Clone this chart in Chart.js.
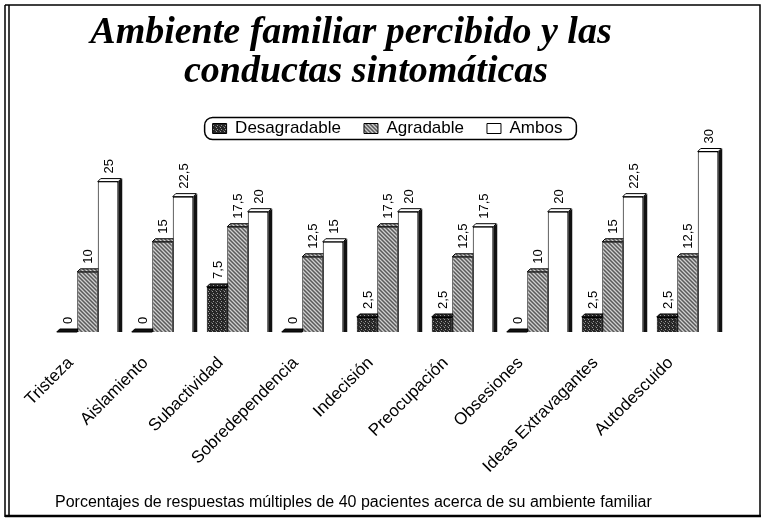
<!DOCTYPE html>
<html>
<head>
<meta charset="utf-8">
<script src="https://cdn.jsdelivr.net/npm/chart.js"></script>
<style>
  html, body { margin: 0; padding: 0; background: #fff; }
</style>
</head>
<body>
<canvas id="myChart" width="765" height="521"></canvas>
<script>
// DATOS
const categorias = ["Tristeza", "Aislamiento", "Subactividad", "Sobredependencia", "Indecisión", "Preocupación", "Obsesiones", "Ideas Extravagantes", "Autodescuido"];
const desagradable = [0, 0, 7.5, 0, 2.5, 2.5, 0, 2.5, 2.5];
const agradable = [10, 15, 17.5, 12.5, 17.5, 12.5, 10, 15, 12.5];
const ambos = [25, 22.5, 20, 15, 20, 17.5, 20, 22.5, 30];
const series = ["Desagradable", "Agradable", "Ambos"];
const titulo = ["Ambiente familiar percibido y las", "conductas sintomáticas"];
const nota = "Porcentajes de respuestas múltiples de 40 pacientes acerca de su ambiente familiar";

const canvas = document.getElementById("myChart");
const ctx = canvas.getContext("2d");

// tramas de relleno (como el grafico escaneado)
function trama(filas, colores) {
  const c = document.createElement("canvas");
  c.width = filas[0].length;
  c.height = filas.length;
  const g = c.getContext("2d");
  filas.forEach((fila, y) => {
    [...fila].forEach((ch, x) => {
      g.fillStyle = colores[ch];
      g.fillRect(x, y, 1, 1);
    });
  });
  return ctx.createPattern(c, "repeat");
}
const oscuro = trama(["0000", "0100", "0002", "1000"], { 0: "#262626", 1: "#9a9a9a", 2: "#5c5c5c" });
const gris = trama(["1020", "0102", "2010", "0201"], { 0: "#8e8e8e", 1: "#cfcfcf", 2: "#5a5a5a" });

const fuente = 'Arial, "Liberation Sans", sans-serif';
const D = 3; // profundidad 3D

// caras laterales y superiores de las barras
const profundidad = {
  id: "profundidad",
  beforeDatasetsDraw(chart) {
    const c = chart.ctx;
    c.save();
    chart.data.datasets.forEach((ds, i) => {
      chart.getDatasetMeta(i).data.forEach((bar) => {
        const l = bar.x - bar.width / 2, r = bar.x + bar.width / 2;
        const t = bar.y, b = bar.base;
        c.fillStyle = "#111";
        c.beginPath();
        c.moveTo(r, t);
        c.lineTo(r + D + 1, t - D);
        c.lineTo(r + D + 1, b);
        c.lineTo(r, b);
        c.closePath();
        c.fill();
        c.beginPath();
        c.moveTo(l, t);
        c.lineTo(l + D, t - D);
        c.lineTo(r + D, t - D);
        c.lineTo(r, t);
        c.closePath();
        c.fillStyle = t === b ? "#111" : ds.backgroundColor;
        c.fill();
        c.strokeStyle = "#000";
        c.lineWidth = 1;
        c.stroke();
      });
    });
    c.restore();
  },
  afterDatasetsDraw(chart) {
    const c = chart.ctx;
    c.save();
    c.font = "13px " + fuente;
    c.fillStyle = "#000";
    c.textAlign = "left";
    c.textBaseline = "middle";
    chart.data.datasets.forEach((ds, i) => {
      chart.getDatasetMeta(i).data.forEach((bar, j) => {
        c.save();
        c.translate(bar.x + 1, bar.y - D - 5);
        c.rotate(-Math.PI / 2);
        c.fillText(String(ds.data[j]).replace(".", ","), 0, 0);
        c.restore();
      });
    });
    c.restore();
  },
  afterDraw(chart) {
    const c = chart.ctx;
    c.save();
    // titulo
    c.fillStyle = "#000";
    c.textAlign = "center";
    c.textBaseline = "alphabetic";
    c.font = 'italic bold 38px "Liberation Serif", "Times New Roman", serif';
    c.fillText(titulo[0], 351, 43);
    c.fillText(titulo[1], 366, 82);
    // nota al pie
    c.textAlign = "left";
    c.font = "16px " + fuente;
    c.fillText(nota, 55, 507);
    // borde de la leyenda
    const hb = chart.legend.legendHitBoxes;
    if (hb && hb.length) {
      const x0 = hb[0].left - 8;
      const x1 = hb[hb.length - 1].left + hb[hb.length - 1].width + 14;
      const yc = hb[0].top + hb[0].height / 2;
      c.beginPath();
      c.roundRect(x0, yc - 11, x1 - x0, 22, 8);
      c.strokeStyle = "#000";
      c.lineWidth = 1.5;
      c.stroke();
    }
    // marco
    c.strokeStyle = "#000";
    c.lineWidth = 1.5;
    c.beginPath();
    c.moveTo(5, 5); c.lineTo(760, 5);
    c.lineTo(760, 516);
    c.moveTo(5, 5); c.lineTo(5, 517);
    c.moveTo(9, 5); c.lineTo(9, 515);
    c.stroke();
    c.lineWidth = 2.5;
    c.beginPath();
    c.moveTo(5, 516); c.lineTo(761, 516);
    c.stroke();
    c.restore();
  }
};

new Chart(ctx, {
  type: "bar",
  data: {
    labels: categorias,
    datasets: [
      { label: series[0], data: desagradable, backgroundColor: oscuro, borderColor: "#000", borderWidth: 1 },
      { label: series[1], data: agradable, backgroundColor: gris, borderColor: "#000", borderWidth: 1 },
      { label: series[2], data: ambos, backgroundColor: "#fff", borderColor: "#000", borderWidth: 1 },
    ],
  },
  options: {
    responsive: false,
    animation: false,
    categoryPercentage: 0.82,
    barPercentage: 1.0,
    layout: { padding: { top: 97, left: 50, right: 40, bottom: 0 } },
    plugins: {
      legend: {
        position: "top",
        labels: {
          color: "#000",
          font: { family: fuente, size: 17 },
          boxWidth: 14,
          boxHeight: 10,
          padding: 23,
        },
      },
      tooltip: { enabled: false },
    },
    scales: {
      x: {
        grid: { display: false },
        border: { display: false },
        ticks: {
          color: "#000",
          font: { family: fuente, size: 17 },
          minRotation: 45,
          maxRotation: 45,
          autoSkip: false,
          labelOffset: -17,
          padding: 13,
        },
        afterFit(scale) {
          scale.height = 189;
          scale.paddingLeft = 0;
          scale.paddingRight = 0;
        },
      },
      y: {
        display: false,
        min: 0,
        max: 30.75,
      },
    },
  },
  plugins: [profundidad],
});
</script>
</body>
</html>
